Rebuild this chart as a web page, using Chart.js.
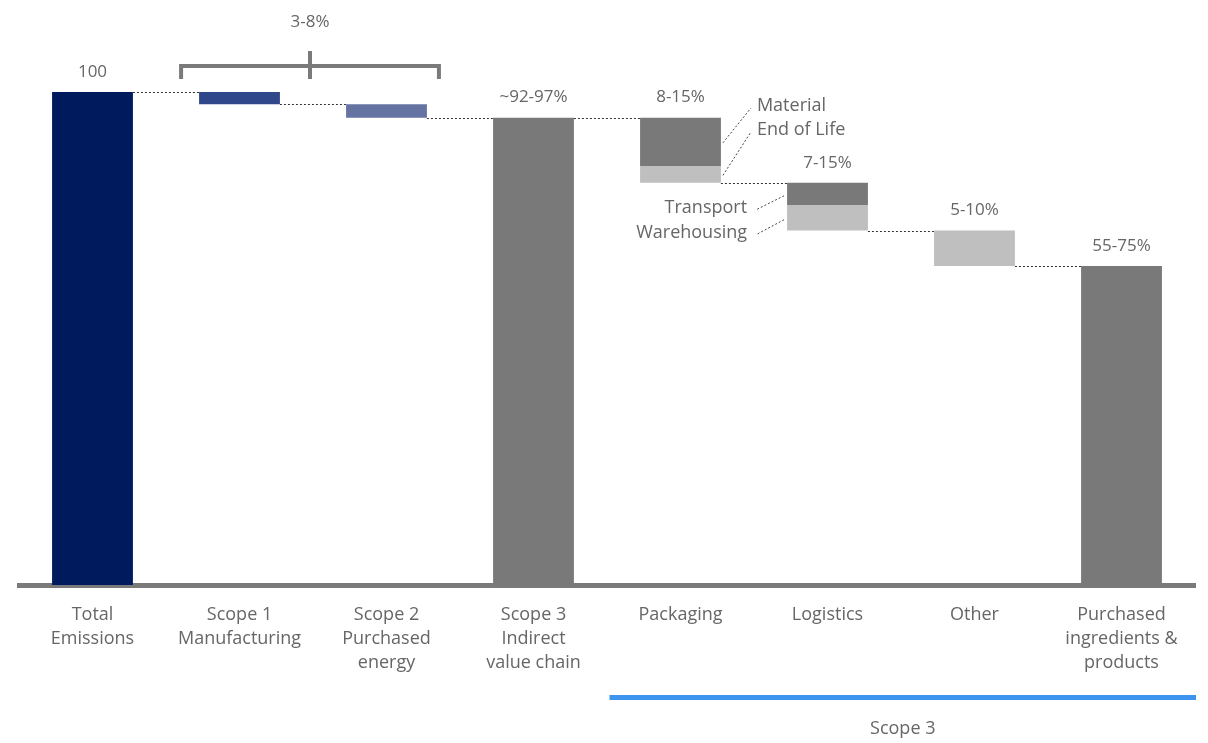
<!DOCTYPE html>
<html><head><meta charset="utf-8">
<script src="https://cdn.jsdelivr.net/npm/chart.js@4.4.1/dist/chart.umd.min.js"></script>
<style>html,body{margin:0;padding:0;background:#fff}canvas{display:block}</style>
</head><body>
<canvas id="c" width="1208" height="743"></canvas>
<script>
const categories = [["Total","Emissions"],["Scope 1","Manufacturing"],["Scope 2","Purchased","energy"],["Scope 3","Indirect","value chain"],["Packaging"],["Logistics"],["Other"],["Purchased","ingredients &","products"]];
const barStart = [0, 97.5, 94.8, 0, 85.0, 77.1, 64.7, 0];
const barEnd   = [100, 100, 97.5, 94.8, 94.8, 81.6, 71.9, 64.7];
const subStart = [null, null, null, null, 81.6, 71.9, null, null];
const subEnd   = [null, null, null, null, 85.0, 77.1, null, null];
const valueLabels = ["100", "", "", "~92-97%", "8-15%", "7-15%", "5-10%", "55-75%"];
const connectorLevels = [100, 97.5, 94.8, 94.8, 81.6, 71.9, 64.7];
const bracketLabel = "3-8%";
const calloutsRight = ["Material", "End of Life"];
const calloutsLeft = ["Transport", "Warehousing"];
const groupLabel = "Scope 3";

const barColors = ['#001a5e','#30488a','#6573a3','#797979','#797979','#797979','#bfbfbf','#797979'];
const TXT = '#666666';
const FONT = '"Open Sans", sans-serif';

const overlay = {
  id: 'overlay',
  afterDatasetsDraw(chart) {
    const ctx = chart.ctx;
    const y = chart.scales.y;
    const m = chart.getDatasetMeta(0).data;
    const half = i => m[i].width / 2;
    ctx.save();
    // connectors
    ctx.strokeStyle = '#333';
    ctx.lineWidth = 1;
    ctx.setLineDash([2, 2]);
    connectorLevels.forEach((lv, i) => {
      const py = Math.round(y.getPixelForValue(lv)) + 0.5;
      ctx.beginPath();
      ctx.moveTo(m[i].x + half(i), py);
      ctx.lineTo(m[i+1].x - half(i+1), py);
      ctx.stroke();
    });
    // value labels
    ctx.setLineDash([]);
    ctx.fillStyle = TXT;
    ctx.font = '17px ' + FONT;
    ctx.textAlign = 'center';
    ctx.textBaseline = 'middle';
    valueLabels.forEach((t, i) => {
      if (!t) return;
      ctx.fillText(t, m[i].x, y.getPixelForValue(barEnd[i]) - 20);
    });
    // bracket
    const y100 = y.getPixelForValue(100);
    const bx1 = m[1].x - half(1) - 18, bx2 = m[2].x + half(2) + 12;
    const bmid = (bx1 + bx2) / 2;
    ctx.strokeStyle = '#7a7a7a';
    ctx.lineWidth = 4;
    ctx.lineCap = 'butt';
    ctx.beginPath();
    ctx.moveTo(bx1, y100 - 13); ctx.lineTo(bx1, y100 - 26); ctx.lineTo(bx2, y100 - 26); ctx.lineTo(bx2, y100 - 13);
    ctx.moveTo(bmid, y100 - 41); ctx.lineTo(bmid, y100 - 13);
    ctx.stroke();
    ctx.fillText(bracketLabel, bmid, y100 - 70);
    // callouts right (packaging)
    ctx.strokeStyle = '#444';
    ctx.lineWidth = 1;
    ctx.setLineDash([2, 2]);
    const r = m[4].x + half(4);
    const segMid1 = (y.getPixelForValue(barEnd[4]) + y.getPixelForValue(barStart[4])) / 2;
    const segMid2 = (y.getPixelForValue(subEnd[4]) + y.getPixelForValue(subStart[4])) / 2;
    const lblY = [y100 + 14, y100 + 38];
    [segMid1, segMid2].forEach((sy, k) => {
      ctx.beginPath();
      ctx.moveTo(r + 2, sy + 1);
      ctx.lineTo(r + 30, lblY[k] + 2);
      ctx.stroke();
    });
    ctx.textAlign = 'left';
    ctx.font = '18px ' + FONT;
    calloutsRight.forEach((t, k) => ctx.fillText(t, r + 36, lblY[k]));
    // callouts left (logistics)
    const l = m[5].x - half(5);
    const s1 = (y.getPixelForValue(barEnd[5]) + y.getPixelForValue(barStart[5])) / 2;
    const s2 = (y.getPixelForValue(subEnd[5]) + y.getPixelForValue(subStart[5])) / 2;
    const lY = [s1 + 14, s2 + 15];
    [s1, s2].forEach((sy, k) => {
      ctx.beginPath();
      ctx.moveTo(l - 3, sy + 2);
      ctx.lineTo(l - 31, lY[k] + 2);
      ctx.stroke();
    });
    ctx.textAlign = 'right';
    calloutsLeft.forEach((t, k) => ctx.fillText(t, l - 40, lY[k]));
    // group bar
    ctx.setLineDash([]);
    const gx1 = m[4].x - 71, gx2 = chart.chartArea.right + 1;
    ctx.strokeStyle = '#3d94ee';
    ctx.lineWidth = 5;
    ctx.beginPath();
    ctx.moveTo(gx1, 697.5); ctx.lineTo(gx2, 697.5);
    ctx.stroke();
    ctx.textAlign = 'center';
    ctx.fillText(groupLabel, (gx1 + gx2) / 2, 729);
    ctx.restore();
  }
};

new Chart(document.getElementById('c'), {
  type: 'bar',
  data: {
    labels: categories,
    datasets: [
      { data: barStart.map((s, i) => [s, barEnd[i]]), backgroundColor: barColors, borderWidth: 0 },
      { data: subStart.map((s, i) => s === null ? null : [s, subEnd[i]]), backgroundColor: '#bfbfbf', borderWidth: 0 }
    ]
  },
  options: {
    responsive: false,
    animation: false,
    events: [],
    layout: { padding: { left: 19, right: 13, top: 92, bottom: 0 } },
    plugins: { legend: { display: false }, tooltip: { enabled: false } },
    datasets: { bar: { categoryPercentage: 1, barPercentage: 0.55 } },
    scales: {
      x: {
        stacked: true,
        grid: { display: false, drawTicks: false },
        border: { display: true, color: '#7a7a7a', width: 5 },
        ticks: { color: TXT, font: { family: FONT, size: 18, lineHeight: 1.333 }, padding: 18, maxRotation: 0, autoSkip: false },
        afterFit: s => { s.height = 158; }
      },
      y: { display: false, min: 0, max: 100, stacked: false }
    }
  },
  plugins: [overlay]
});
</script>
</body></html>
